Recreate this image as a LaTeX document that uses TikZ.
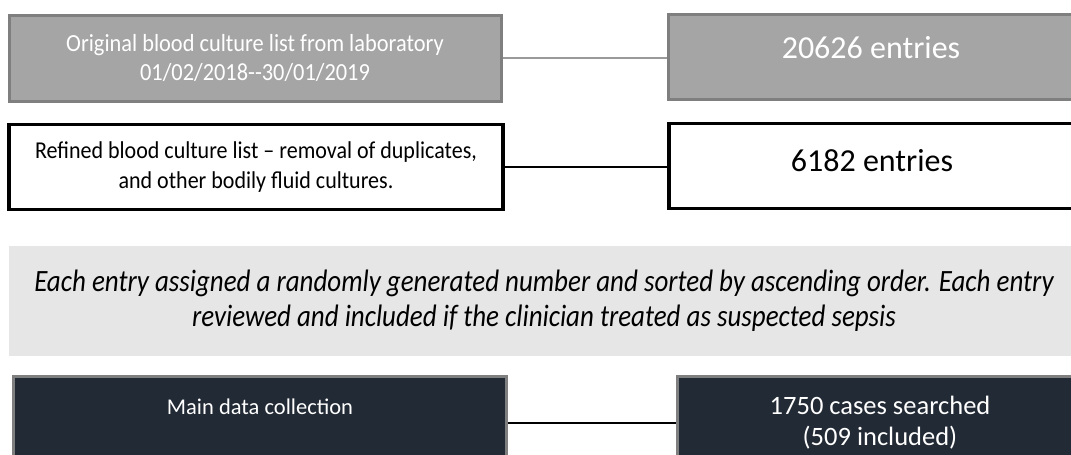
\documentclass[tikz,border=0pt]{standalone}
\usepackage{fontspec}
\setmainfont{Carlito}
\newfontfamily\narrowfont[FakeStretch=0.91]{Carlito}
\newfontfamily\bandfont[FakeStretch=0.87]{Carlito}
\definecolor{rawfill}{HTML}{A5A5A5}
\definecolor{rawdraw}{HTML}{7F7F7F}
\definecolor{rawline}{HTML}{9A9A9A}
\definecolor{darkfill}{HTML}{222A35}
\definecolor{bandfill}{HTML}{E7E6E6}
\begin{document}
\begin{tikzpicture}[x=1pt,y=-1pt,
  rawbox/.style={rectangle, fill=rawfill, draw=rawdraw, line width=3pt, text=white, inner sep=0pt},
  refbox/.style={rectangle, fill=white, draw=black, line width=3.5pt, text=black, inner sep=0pt},
  darkbox/.style={rectangle, fill=darkfill, draw=rawdraw, line width=3pt, text=white, inner sep=0pt},
  bandbox/.style={rectangle, fill=bandfill, draw=none, text=black, inner sep=0pt}]
\useasboundingbox (0,0) rectangle (1071,455);
% first row
\node [rawbox, minimum width=492pt, minimum height=86pt, align=center,
  font=\narrowfont\fontsize{24.6}{29}\selectfont] (orig) at (255,58)
  {Original blood culture list from laboratory\\01/02/2018{-}{-}30/01/2019};
\node [rawbox, minimum width=406pt, text height=44pt, text depth=41pt, align=center,
  font=\fontsize{32}{38}\selectfont] (rawcount) at (871,57) {20626 entries};
% second row
\node [refbox, minimum width=494pt, minimum height=85pt, align=center,
  font=\narrowfont\fontsize{24.2}{30}\selectfont] (refined) at (256,167)
  {Refined blood culture list – removal of duplicates,\\and other bodily fluid cultures.};
\node [refbox, minimum width=406pt, text height=48pt, text depth=37pt, align=center,
  font=\fontsize{32}{38}\selectfont] (refcount) at (872,166) {6182 entries};
% randomisation band
\node [bandbox, minimum width=1070pt, minimum height=110pt, align=center,
  font=\bandfont\itshape\fontsize{31}{35}\selectfont] (band) at (544,301)
  {Each entry assigned a randomly generated number and sorted by ascending order. Each entry\\reviewed and included if the clinician treated as suspected sepsis};
% main collection
\node [darkbox, minimum width=493pt, text height=38pt, text depth=55pt, align=center,
  font=\fontsize{22.5}{28}\selectfont] (main) at (260,423) {Main data collection};
\node [darkbox, minimum width=406pt, minimum height=93pt, align=center,
  font=\fontsize{26.5}{31}\selectfont] (cases) at (880,423)
  {1750 cases searched\\(509 included)};
% connectors
\draw [rawline, line width=2pt] (orig.east) -- (orig.east -| rawcount.west);
\draw [black, line width=1.2pt] (refined.east) -- (refined.east -| refcount.west);
\draw [black, line width=2.5pt] (main.east) -- (main.east -| cases.west);
\end{tikzpicture}
\end{document}
